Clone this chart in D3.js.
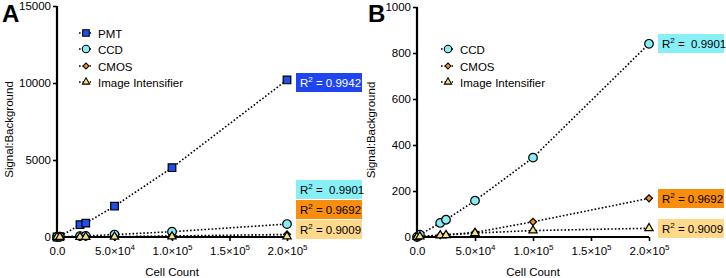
<!DOCTYPE html>
<html><head><meta charset="utf-8">
<script src="https://cdn.jsdelivr.net/npm/d3@7"></script>
<style>body{margin:0;background:#fff;} text{font-family:"Liberation Sans",Arial,sans-serif;}</style>
</head><body><svg id="c" width="726" height="278"></svg>
<script>
const cellCounts = [0, 2500, 20000, 25000, 50000, 100000, 200000];
const pmt  = [0, 30, 800, 900, 2000, 4500, 10200];
const ccd  = [0, 10, 61, 75, 158, 345, 840];
const cmos = [0, 2, 8, 10, 20, 66, 168];
const ii   = [0, 2, 7, 8, 17, 28, 38];
const seriesNames = ["PMT", "CCD", "CMOS", "Image Intensifier"];
const r2Labels = ["0.9942", " 0.9901", "0.9692", "0.9009"];
const xTicks = [0, 50000, 100000, 150000, 200000];
const xTickMant = ["0.0", "5.0×10", "1.0×10", "1.5×10", "2.0×10"];
const xTickExp = ["", "4", "5", "5", "5"];
const yTicksA = [0, 5000, 10000, 15000];
const yTicksB = [0, 200, 400, 600, 800, 1000];

const styles = {
  "PMT": {shape: d3.symbolSquare, size: 58, rot: 0, fill: "#1f4fe8", box: "#1f45f0", text: "#fff"},
  "CCD": {shape: d3.symbolCircle, size: 58, rot: 0, fill: "#86eef2", box: "#86f0f6", text: "#000"},
  "CMOS": {shape: d3.symbolSquare, size: 24, rot: 45, fill: "#f7930f", box: "#f98d0c", text: "#000"},
  "Image Intensifier": {shape: d3.symbolTriangle, size: 30, rot: 0, fill: "#fbe27a", box: "#fed98c", text: "#000"}
};
const seriesVals = {"PMT": pmt, "CCD": ccd, "CMOS": cmos, "Image Intensifier": ii};

const svg = d3.select("#c");

function panel(opt) {
  const g = svg.append("g");
  const x = d3.scaleLinear().domain([0, 200000]).range([opt.x0, opt.x1]);
  const y = d3.scaleLinear().domain([0, opt.ymax]).range([opt.y0, opt.y1]);

  const xa = g.append("g").attr("transform", `translate(0,${opt.y0})`)
    .call(d3.axisBottom(x).tickValues(xTicks).tickSize(4).tickPadding(3));
  const ya = g.append("g").attr("transform", `translate(${opt.x0},0)`)
    .call(d3.axisLeft(y).tickValues(opt.yTicks).tickSize(4).tickPadding(2).tickFormat(d3.format("d")));
  [xa, ya].forEach(a => {
    a.select(".domain").attr("stroke", "#000").attr("stroke-width", 2.2);
    a.selectAll(".tick line").attr("stroke", "#000").attr("stroke-width", 1.6);
    a.selectAll("text").attr("font-size", 11.5).attr("fill", "#000").style("font-family", "'Liberation Sans',Arial,sans-serif");
  });
  xa.select(".domain").attr("d", `M${opt.x0},0H${opt.x1}`);
  ya.select(".domain").attr("d", `M0,${opt.y0}V${opt.y1}`);
  xa.selectAll(".tick text").text(null).attr("dy", "0.95em").each(function(d, i) {
    const t = d3.select(this);
    t.append("tspan").text(xTickMant[i]);
    if (xTickExp[i]) t.append("tspan").attr("font-size", 8).attr("dy", -5).text(xTickExp[i]);
  });

  opt.series.forEach(name => {
    const vals = seriesVals[name];
    const st = styles[name];
    const pts = cellCounts.map((c, i) => [x(c), y(vals[i])]);
    g.append("path").attr("d", d3.line()(pts)).attr("fill", "none")
      .attr("stroke", "#000").attr("stroke-width", 1.6).attr("stroke-dasharray", "1.6,2");
    g.selectAll(null).data(pts).join("path")
      .attr("transform", d => `translate(${d[0]},${d[1]}) rotate(${st.rot})`)
      .attr("d", d3.symbol().type(st.shape).size(st.size))
      .attr("fill", st.fill).attr("stroke", "#000").attr("stroke-width", 1.2);
  });

  opt.series.forEach((name, i) => {
    const st = styles[name];
    const ly = opt.legY[i];
    g.append("line").attr("x1", opt.legX - 6).attr("x2", opt.legX + 6).attr("y1", ly).attr("y2", ly)
      .attr("stroke", "#000").attr("stroke-width", 1.6).attr("stroke-dasharray", "1.6,2");
    g.append("path").attr("transform", `translate(${opt.legX + 1},${ly}) rotate(${st.rot})`)
      .attr("d", d3.symbol().type(st.shape).size(st.size * 0.75))
      .attr("fill", st.fill).attr("stroke", "#000").attr("stroke-width", 1.1);
    g.append("text").attr("x", opt.legX + 13).attr("y", ly + 4.5).attr("font-size", 11.5).text(name);
  });

  opt.boxes.forEach(b => {
    const st = styles[b.name];
    const idx = seriesNames.indexOf(b.name);
    g.append("rect").attr("x", b.x).attr("y", b.y).attr("width", 66).attr("height", 19).attr("fill", st.box);
    const t = g.append("text").attr("x", b.x + 4).attr("y", b.y + 14).attr("font-size", 11.5)
      .attr("fill", st.text).style("white-space", "pre");
    t.append("tspan").text("R");
    t.append("tspan").attr("font-size", 8).attr("dy", -5).text("2");
    t.append("tspan").attr("dy", 5).text(" = " + r2Labels[idx]);
  });

  g.append("text").attr("x", opt.letterX).attr("y", 22).attr("font-size", 24).attr("font-weight", "bold").text(opt.letter);
  g.append("text").attr("transform", `translate(${opt.ylabX},${(opt.y0 + opt.y1) / 2 + 8}) rotate(-90)`)
    .attr("text-anchor", "middle").attr("font-size", 11.5).text("Signal:Background");
  g.append("text").attr("x", (opt.x0 + opt.x1) / 2).attr("y", 276).attr("text-anchor", "middle")
    .attr("font-size", 11.5).text("Cell Count");
}

panel({
  x0: 57, x1: 287, y0: 237, y1: 6, ymax: 15000, yTicks: yTicksA,
  series: ["PMT", "CCD", "CMOS", "Image Intensifier"],
  legX: 85, legY: [33, 49, 66, 82],
  boxes: [
    {name: "PMT", x: 296, y: 73},
    {name: "CCD", x: 296, y: 180},
    {name: "CMOS", x: 296, y: 200},
    {name: "Image Intensifier", x: 296, y: 220}
  ],
  letter: "A", letterX: 2, ylabX: 13
});

panel({
  x0: 417, x1: 649, y0: 237, y1: 7, ymax: 1000, yTicks: yTicksB,
  series: ["CCD", "CMOS", "Image Intensifier"],
  legX: 447, legY: [49, 66, 82],
  boxes: [
    {name: "CCD", x: 658, y: 34},
    {name: "CMOS", x: 658, y: 189},
    {name: "Image Intensifier", x: 658, y: 219}
  ],
  letter: "B", letterX: 368, ylabX: 375
});
</script></body></html>
